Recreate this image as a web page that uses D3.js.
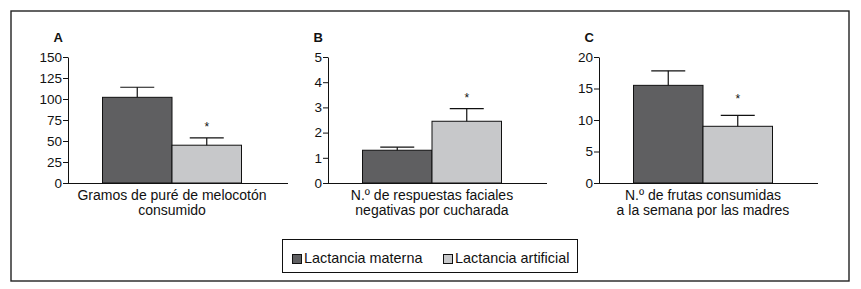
<!DOCTYPE html>
<html><head><meta charset="utf-8">
<script src="https://cdn.jsdelivr.net/npm/d3@7"></script>
<style>
html,body{margin:0;padding:0;background:#fff;}
svg{display:block;font-family:"Liberation Sans",Arial,Helvetica,sans-serif;}
</style></head>
<body>
<svg id="chart" width="861" height="289"></svg>
<script>
// ---- data ----
const panelLetters = ["A", "B", "C"];
const groups = ["Lactancia materna", "Lactancia artificial"];
const meanMaterna = [102, 1.3, 15.5];
const meanArtificial = [45, 2.45, 9.0];
const semMaterna = [12, 0.12, 2.3];
const semArtificial = [8.7, 0.5, 1.75];
const starAt = [69, 3.45, 13.7];          // level of the "*" on Lactancia artificial
const yMax = [150, 5, 20];
const yTicks = [[0,25,50,75,100,125,150], [0,1,2,3,4,5], [0,5,10,15,20]];
const xLabels = [
  ["Gramos de puré de melocotón", "consumido"],
  ["N.º de respuestas faciales", "negativas por cucharada"],
  ["N.º de frutas consumidas", "a la semana por las madres"]
];
const colors = ["#5f5f61", "#c7c8ca"];

// ---- layout ----
const svg = d3.select("#chart");
const axisX = [68, 328, 599];
const axisLen = [220, 219, 219];
const plotTop = 57, plotBottom = 183;
const barOffset = 34.5, barW = 69.5;

svg.append("rect").attr("x", 11).attr("y", 11).attr("width", 838).attr("height", 270)
  .attr("fill", "none").attr("stroke", "#222").attr("stroke-width", 1.4);

panelLetters.forEach((letter, i) => {
  const g = svg.append("g");
  const y = d3.scaleLinear().domain([0, yMax[i]]).range([plotBottom, plotTop]);
  const x = d3.scaleBand().domain(groups)
    .range([axisX[i] + barOffset, axisX[i] + barOffset + 2 * barW]).padding(0);

  // y axis
  const ya = g.append("g").attr("transform", `translate(${axisX[i]},0)`)
    .call(d3.axisLeft(y).tickValues(yTicks[i]).tickSize(5).tickSizeOuter(0).tickPadding(1)
      .tickFormat(d3.format("d")));
  ya.select(".domain").attr("stroke", "#111");
  ya.selectAll(".tick line").attr("stroke", "#111");
  ya.selectAll(".tick text").attr("font-size", 13.5).attr("fill", "#111")
    .attr("font-family", "'Liberation Sans',Arial,sans-serif");

  // panel letter
  g.append("text").attr("x", axisX[i] - 5).attr("y", 42).attr("text-anchor", "end")
    .attr("font-weight", "bold").attr("font-size", 13).attr("fill", "#111").text(letter);

  const means = [meanMaterna[i], meanArtificial[i]];
  const sems = [semMaterna[i], semArtificial[i]];

  // bars
  g.selectAll("rect.bar").data(groups).enter().append("rect")
    .attr("x", d => x(d)).attr("width", x.bandwidth())
    .attr("y", (d, j) => y(means[j])).attr("height", (d, j) => y(0) - y(means[j]))
    .attr("fill", (d, j) => colors[j]).attr("stroke", "#111").attr("stroke-width", 1);

  // error bars
  groups.forEach((gname, j) => {
    const cx = x(gname) + x.bandwidth() / 2;
    g.append("line").attr("x1", cx).attr("x2", cx)
      .attr("y1", y(means[j])).attr("y2", y(means[j] + sems[j]))
      .attr("stroke", "#111").attr("stroke-width", 1.2);
    g.append("line").attr("x1", cx - 17).attr("x2", cx + 17)
      .attr("y1", y(means[j] + sems[j])).attr("y2", y(means[j] + sems[j]))
      .attr("stroke", "#111").attr("stroke-width", 1.2);
  });

  // star
  const cx2 = x(groups[1]) + x.bandwidth() / 2;
  g.append("text").attr("x", cx2).attr("y", y(starAt[i]) + 6).attr("text-anchor", "middle")
    .attr("font-size", 12).attr("fill", "#111").text("*");

  // x axis line
  g.append("line").attr("x1", axisX[i]).attr("x2", axisX[i] + axisLen[i])
    .attr("y1", plotBottom + 0.5).attr("y2", plotBottom + 0.5).attr("stroke", "#111");

  // x label
  const lx = x.range()[0] + barW;
  xLabels[i].forEach((t, k) => {
    g.append("text").attr("x", lx).attr("y", 200 + k * 15).attr("text-anchor", "middle")
      .attr("font-size", 14).attr("fill", "#111").text(t);
  });
});

// legend
const lg = svg.append("g");
lg.append("rect").attr("x", 282.5).attr("y", 239.5).attr("width", 295).attr("height", 33)
  .attr("fill", "none").attr("stroke", "#111").attr("stroke-width", 1);
const legX = [292, 443];
groups.forEach((gname, j) => {
  lg.append("rect").attr("x", legX[j] + 0.5).attr("y", 254.5).attr("width", 9).attr("height", 9)
    .attr("fill", colors[j]).attr("stroke", "#111").attr("stroke-width", 1);
  lg.append("text").attr("x", legX[j] + 12).attr("y", 262.5).attr("font-size", 14.4)
    .attr("fill", "#111").text(gname);
});
</script>
</body></html>
